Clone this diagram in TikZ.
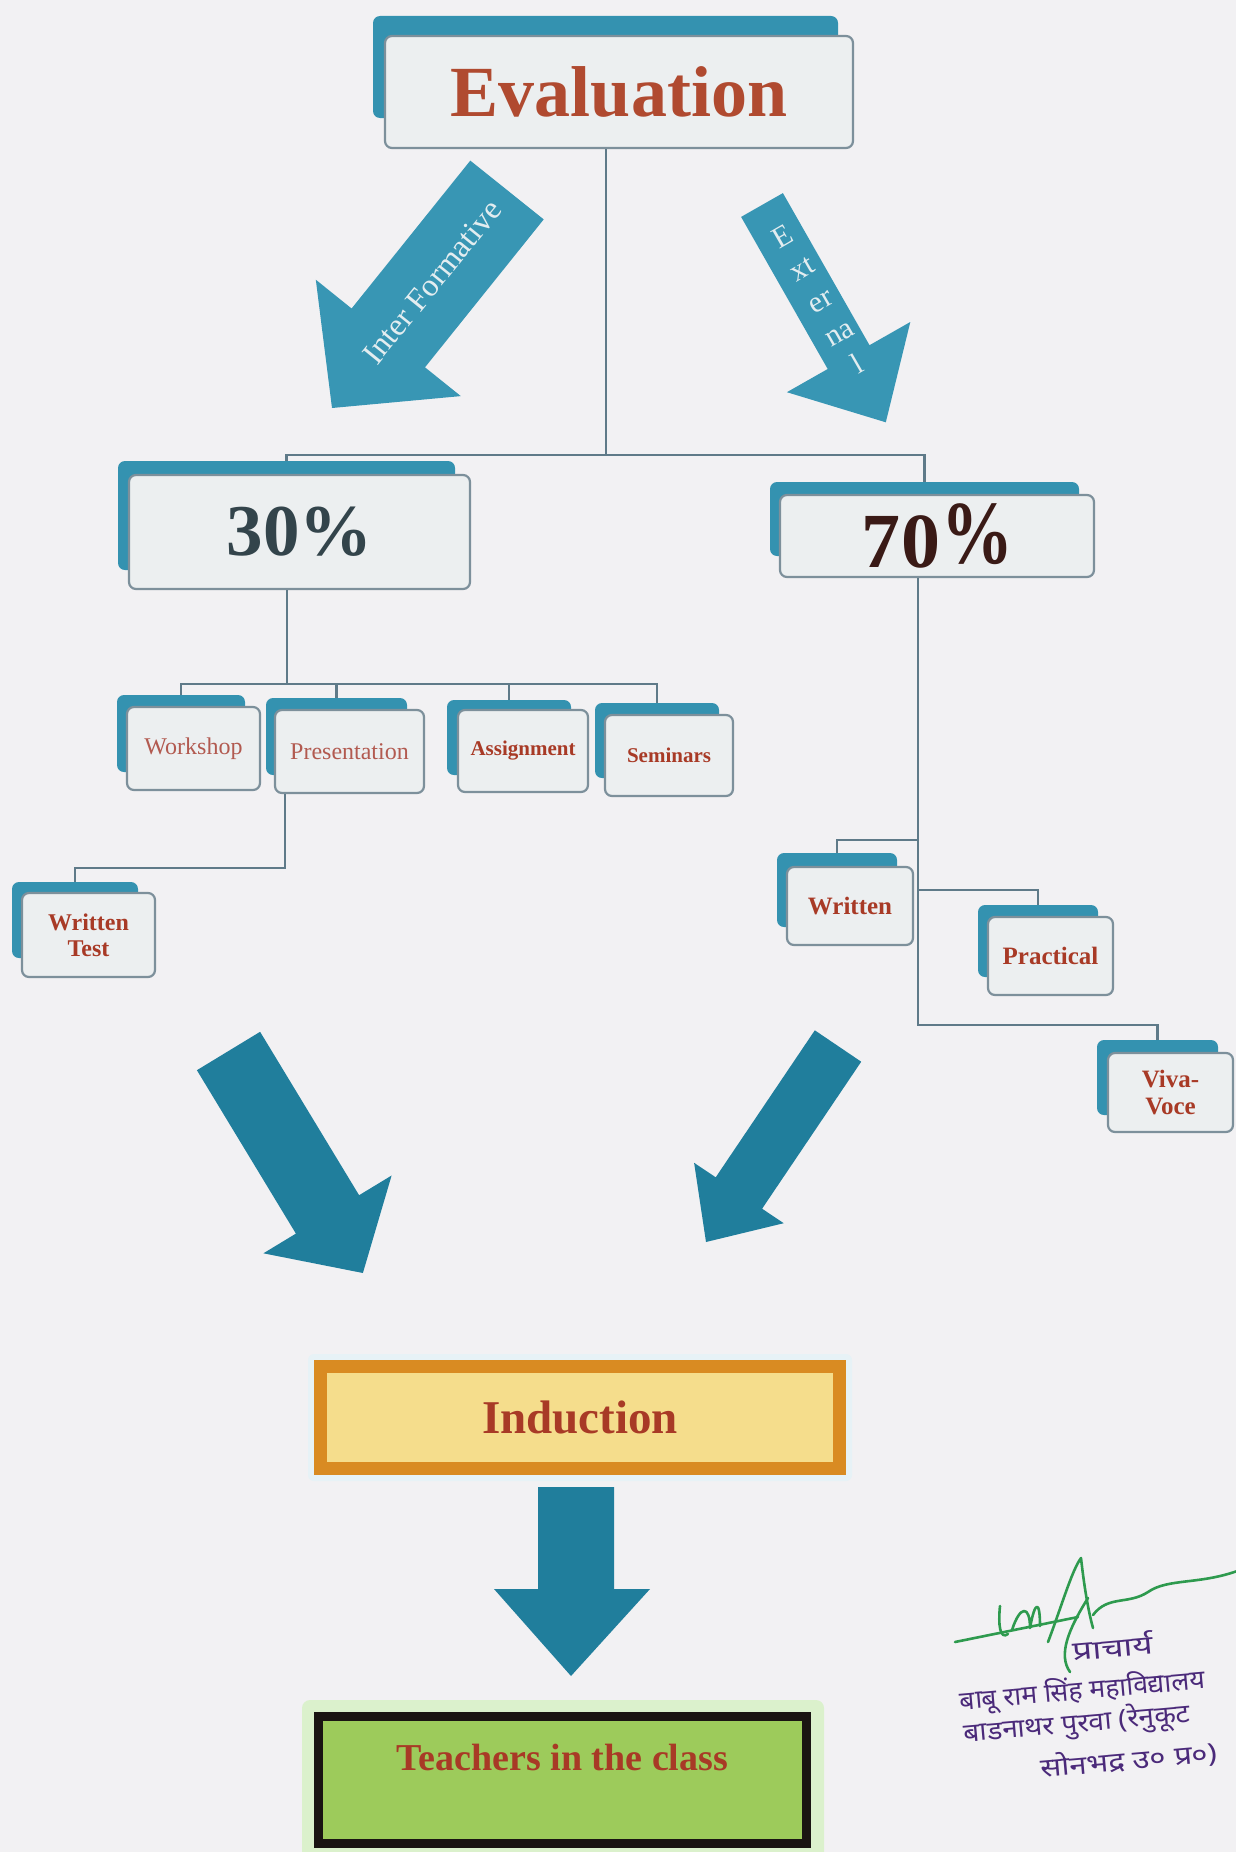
\documentclass[tikz,border=0pt]{standalone}
\usepackage{fontspec}
\setmainfont{Liberation Serif}
\newfontfamily\devfont[Script=Devanagari]{Noto Sans}
\usepackage{graphicx}
\usetikzlibrary{calc}
\definecolor{paper}{HTML}{F2F1F3}
\definecolor{shadowteal}{RGB}{52,146,176}
\definecolor{arrowtop}{RGB}{56,150,180}
\definecolor{arrowmid}{RGB}{32,126,156}
\definecolor{boxfill}{HTML}{ECEFF0}
\definecolor{boxline}{HTML}{7D909B}
\definecolor{connline}{HTML}{5F7A88}
\definecolor{evalred}{HTML}{B04A30}
\definecolor{lightred}{HTML}{B25A50}
\definecolor{boldred}{HTML}{A83A26}
\definecolor{pctgray}{HTML}{33444B}
\definecolor{pctbrown}{HTML}{3A1A16}
\definecolor{indborder}{HTML}{D98B22}
\definecolor{indfill}{HTML}{F5DD8C}
\definecolor{tchfill}{HTML}{9DCB5B}
\definecolor{tchborder}{HTML}{1A1512}
\definecolor{arrowtxt}{HTML}{E3EDF0}
\definecolor{stampink}{HTML}{4B2A7A}
\definecolor{siggreen}{HTML}{2E9A4E}
\tikzset{
  shadowbox/.style={fill=shadowteal, rounded corners=7pt, inner sep=0pt},
  frontbox/.style={draw=boxline, line width=2.2pt, fill=boxfill, rounded corners=7pt, inner sep=0pt, align=center},
  conn/.style={draw=connline, line width=2.4pt},
  smallreg/.style={text=lightred, font=\fontsize{24}{26}\selectfont},
  smallbold/.style={text=boldred, font=\fontsize{21}{24}\selectfont\bfseries},
  midbold/.style={text=boldred, font=\fontsize{25}{27}\selectfont\bfseries},
  arrowtext/.style={text=arrowtxt, inner sep=0pt, align=center},
  stamptext/.style={text=stampink, inner sep=0pt, rotate=5},
  stampfont/.style={font=\devfont\bfseries\fontsize{26}{26}\selectfont},
  sig/.style={draw=siggreen, line width=2.6pt, line cap=round, line join=round}
}
\begin{document}
\begin{tikzpicture}[x=1pt,y=-1pt]
\useasboundingbox (0,0) rectangle (1236,1852);
\fill[paper] (0,0) rectangle (1236,1852);
\begin{scope}
\clip (0,0) rectangle (1236,1852);

% ---------- coordinates for connector turns ----------
\coordinate (busA) at (606,455);
\coordinate (busB) at (287,684);
\coordinate (wtTurn) at (285,868);
\coordinate (rTrunk) at (918,1025);
\coordinate (wrTurn) at (918,840);
\coordinate (prTurn) at (918,890);

% ---------- shadow boxes ----------
\node[shadowbox, minimum width=465pt, minimum height=102pt] (sEval) at (605.5,67) {};
\node[shadowbox, minimum width=337pt, minimum height=109pt] (s30) at (286.5,515.5) {};
\node[shadowbox, minimum width=309pt, minimum height=74pt] (s70) at (924.5,519) {};
\node[shadowbox, minimum width=128pt, minimum height=77pt] (sWork) at (181,733.5) {};
\node[shadowbox, minimum width=141pt, minimum height=77pt] (sPres) at (336.5,736.5) {};
\node[shadowbox, minimum width=124pt, minimum height=75pt] (sAss) at (509,737.5) {};
\node[shadowbox, minimum width=124pt, minimum height=75pt] (sSem) at (657,740.5) {};
\node[shadowbox, minimum width=126pt, minimum height=76pt] (sWT) at (75,920) {};
\node[shadowbox, minimum width=120pt, minimum height=74pt] (sWr) at (837,890) {};
\node[shadowbox, minimum width=120pt, minimum height=72pt] (sPr) at (1038,941) {};
\node[shadowbox, minimum width=121pt, minimum height=75pt] (sViva) at (1157.5,1077.5) {};

% ---------- front boxes ----------
\node[frontbox, minimum width=468pt, minimum height=112pt, text=evalred,
      font=\fontsize{72}{72}\selectfont\bfseries] (fEval) at (619,92) {Evaluation};
\node[frontbox, minimum width=341pt, minimum height=114pt, text=pctgray,
      font=\fontsize{73}{73}\selectfont\bfseries] (f30) at (299.5,532) {30\%};
\node[frontbox, minimum width=314pt, minimum height=82pt, text=pctbrown,
      font=\fontsize{78}{78}\selectfont\bfseries] (f70) at (937,536)
      {7\kern2pt0\raisebox{4pt}{\scalebox{0.8}[1]{\fontsize{90}{90}\selectfont\%}}};
\node[frontbox, minimum width=133pt, minimum height=83pt, smallreg] (fWork) at (193.5,748.5) {Workshop};
\node[frontbox, minimum width=149pt, minimum height=83pt, smallreg] (fPres) at (349.5,751.5) {Presentation};
\node[frontbox, minimum width=130pt, minimum height=82pt, smallbold] (fAss) at (523,751) {Assignment};
\node[frontbox, minimum width=128pt, minimum height=81pt, smallbold] (fSem) at (669,755.5) {Seminars};
\node[frontbox, minimum width=133pt, minimum height=84pt, text=boldred,
      font=\fontsize{24}{26}\selectfont\bfseries] (fWT) at (88.5,935) {Written\\Test};
\node[frontbox, minimum width=126pt, minimum height=78pt, midbold] (fWr) at (850,906) {Written};
\node[frontbox, minimum width=125pt, minimum height=78pt, midbold] (fPr) at (1050.5,956) {Practical};
\node[frontbox, minimum width=125pt, minimum height=79pt, midbold] (fViva) at (1170.5,1092.5) {Viva-\\Voce};

% ---------- connectors ----------
\draw[conn] (fEval.south -| busA) -- (busA);
\draw[conn] (busA) -| (s30.north);
\draw[conn] (busA) -| (s70.north);
\draw[conn] (f30.south -| busB) -- (busB);
\draw[conn] (busB) -| (sWork.north);
\draw[conn] (busB) -| (sPres.north);
\draw[conn] (busB) -| (sAss.north);
\draw[conn] (busB) -| (sSem.north);
\draw[conn] (fPres.south -| wtTurn) -- (wtTurn) -| (sWT.north);
\draw[conn] (f70.south -| rTrunk) -- (rTrunk) -| (sViva.north);
\draw[conn] (wrTurn) -| (sWr.north);
\draw[conn] (prTurn) -| (sPr.north);

% ---------- big arrows ----------
\fill[arrowtop] (470.3,160.6) -- (543.7,219.4) -- (425.0,367.3) -- (460.8,396.1)
  -- (332,408) -- (315.8,279.7) -- (351.6,308.5) -- cycle;
\node[arrowtext, rotate=51, font=\fontsize{32}{32}\selectfont] (tInter) at (432,282) {Inter Formative};

\fill[arrowtop] (782.9,193.1) -- (869.5,345.2) -- (910.3,322.0) -- (885.8,422.3)
  -- (786.9,392.2) -- (827.7,369.0) -- (741.1,216.9) -- cycle;
\node[arrowtext, rotate=30, font=\fontsize{30}{37}\selectfont] (tExt) at (820,300) {E\\xt\\er\\na\\l};

\fill[arrowmid] (260.1,1031.8) -- (359.1,1195.2) -- (391.6,1175.5) -- (362.9,1273.0)
  -- (263.4,1253.3) -- (295.9,1233.6) -- (196.9,1070.2) -- cycle;
\fill[arrowmid] (814.8,1030.3) -- (861.2,1061.7) -- (762.1,1208.7) -- (783.7,1223.2)
  -- (706,1242) -- (694.1,1162.8) -- (715.7,1177.3) -- cycle;

% ---------- Induction ----------
\fill[shadowteal!12, rounded corners=6pt] (308,1354) rectangle (852,1481);
\node[draw=indborder, line width=13pt, fill=indfill, minimum width=519pt, minimum height=102pt,
      inner sep=0pt, text=boldred, font=\fontsize{47}{47}\selectfont\bfseries] (ind) at (580,1417.5) {Induction};

% down arrow
\fill[arrowmid] (538,1487) -- (614,1487) -- (614,1589) -- (650,1589) -- (571,1676)
  -- (494,1589) -- (538,1589) -- cycle;

% ---------- Teachers in the class ----------
\fill[yellow!30!green!20!white, rounded corners=8pt] (302,1700) rectangle (824,1860);
\node[draw=tchborder, line width=9pt, fill=tchfill, minimum width=488pt, minimum height=127pt,
      inner sep=0pt] (tch) at (562.5,1780) {};
\node[text=boldred, inner sep=0pt, font=\fontsize{38}{38}\selectfont\bfseries] (tchtext)
      at ($(tch.center)+(0,-23)$) {Teachers in the class};

% ---------- signature and stamp ----------
\draw[sig] (955,1642) -- (1078,1617);
\draw[sig] (1000,1606) .. controls (998,1625) and (1000,1640) .. (1008,1634);
\draw[sig] (1012,1630) .. controls (1020,1605) and (1030,1605) .. (1030,1628)
  .. controls (1035,1600) and (1040,1600) .. (1040,1626);
\draw[sig] (1048,1642) .. controls (1062,1605) and (1072,1570) .. (1081,1558)
  .. controls (1084,1585) and (1088,1610) .. (1093,1628);
\draw[sig] (1088,1598) .. controls (1068,1630) and (1058,1655) .. (1070,1672);
\draw[sig] (1093,1615) .. controls (1108,1595) and (1128,1605) .. (1148,1592)
  .. controls (1168,1578) and (1200,1585) .. (1240,1570);
\node[stamptext, stampfont] (st1) at (1113,1646) {\scalebox{1.35}[1]{प्राचार्य}};
\node[stamptext, stampfont, anchor=west] (st2) at (960,1702) {\scalebox{1.02}[1]{बाबू राम सिंह महाविद्यालय}};
\node[stamptext, stampfont, anchor=west] (st3) at (964,1734) {\scalebox{1.08}[1]{बाडनाथर पुरवा (रेनुकूट}};
\node[stamptext, stampfont, anchor=west] (st4) at (1040,1768) {\scalebox{1.2}[1]{सोनभद्र  उ० प्र०)}};
\end{scope}
\end{tikzpicture}
\end{document}
